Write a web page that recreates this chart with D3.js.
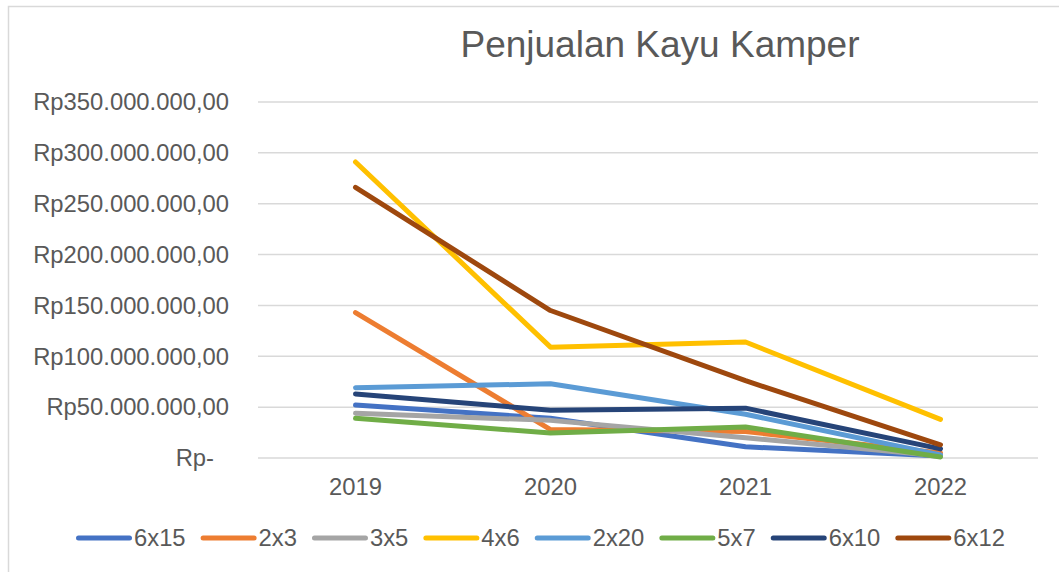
<!DOCTYPE html>
<html lang="en">
<head>
  <meta charset="UTF-8" />
  <title>Penjualan Kayu Kamper</title>
  <style>
    body {
      margin: 0;
      background: white;
      font-family: "Liberation Sans", Arial, sans-serif;
    }
    svg { display: block; }
    .tick-label { font-size: 23.8px; fill: #595959; }
    .title { font-size: 37px; fill: #595959; }
    .legend-label { font-size: 23.8px; fill: #595959; }
  </style>
</head>
<body>
  <svg width="1059" height="572"></svg>

  <script src="https://d3js.org/d3.v7.min.js"></script>
  <script>
    const years = ["2019", "2020", "2021", "2022"];
    const seriesNames = ["6x15", "2x3", "3x5", "4x6", "2x20", "5x7", "6x10", "6x12"];
    const seriesColors = ["#4472C4", "#ED7D31", "#A5A5A5", "#FFC000", "#5B9BD5", "#70AD47", "#264478", "#9E480E"];

    // values in Rupiah
    const s6x15 = [52000000, 39000000, 11000000, 2000000];
    const s2x3  = [143000000, 28000000, 26000000, 5000000];
    const s3x5  = [44000000, 37000000, 20000000, 2000000];
    const s4x6  = [291000000, 109000000, 114000000, 38000000];
    const s2x20 = [69000000, 73000000, 43000000, 3000000];
    const s5x7  = [39000000, 24500000, 30500000, 1000000];
    const s6x10 = [63000000, 47000000, 49000000, 9000000];
    const s6x12 = [266000000, 145000000, 76000000, 13000000];

    const yTicks = [0, 50000000, 100000000, 150000000, 200000000, 250000000, 300000000, 350000000];

    const allValues = [s6x15, s2x3, s3x5, s4x6, s2x20, s5x7, s6x10, s6x12];
    const series = seriesNames.map((name, i) => ({
      name: name,
      color: seriesColors[i],
      values: allValues[i]
    }));

    const svg = d3.select("svg");

    const plotLeft = 258, plotRight = 1038;
    const plotTop = 102, plotBottom = 458;

    const x = d3.scalePoint()
      .domain(years)
      .range([plotLeft, plotRight])
      .padding(0.5);

    const y = d3.scaleLinear()
      .domain([0, 350000000])
      .range([plotBottom, plotTop]);

    // outer chart border (only top/left edges visible in frame)
    svg.append("rect")
      .attr("x", 8.5)
      .attr("y", 6.5)
      .attr("width", 1200)
      .attr("height", 700)
      .attr("fill", "none")
      .attr("stroke", "#d9d9d9")
      .attr("stroke-width", 1.5);

    svg.append("text")
      .attr("class", "title")
      .attr("x", 660)
      .attr("y", 57)
      .attr("text-anchor", "middle")
      .text("Penjualan Kayu Kamper");

    // gridlines
    svg.append("g")
      .selectAll("line")
      .data(yTicks)
      .join("line")
        .attr("x1", plotLeft)
        .attr("x2", plotRight)
        .attr("y1", d => y(d))
        .attr("y2", d => y(d))
        .attr("stroke", "#d9d9d9")
        .attr("stroke-width", 1.5);

    function rupiah(v) {
      if (v === 0) return "Rp-";
      const s = String(v).replace(/\B(?=(\d{3})+(?!\d))/g, ".");
      return "Rp" + s + ",00";
    }

    svg.append("g")
      .selectAll("text")
      .data(yTicks)
      .join("text")
        .attr("class", "tick-label")
        .attr("x", d => d === 0 ? 214 : 229)
        .attr("y", d => y(d))
        .attr("dy", "0.35em")
        .attr("text-anchor", "end")
        .text(d => rupiah(d));

    svg.append("g")
      .selectAll("text")
      .data(years)
      .join("text")
        .attr("class", "tick-label")
        .attr("x", d => x(d))
        .attr("y", 495)
        .attr("text-anchor", "middle")
        .text(d => d);

    const line = d3.line()
      .x((d, i) => x(years[i]))
      .y(d => y(d));

    svg.append("g")
      .selectAll("path")
      .data(series)
      .join("path")
        .attr("d", d => line(d.values))
        .attr("fill", "none")
        .attr("stroke", d => d.color)
        .attr("stroke-width", 5)
        .attr("stroke-linejoin", "round")
        .attr("stroke-linecap", "round");

    // legend
    const legend = svg.append("g");
    let lx = 76;
    const ly = 538;
    series.forEach(s => {
      const g = legend.append("g");
      g.append("line")
        .attr("x1", lx + 2.5)
        .attr("x2", lx + 53.5)
        .attr("y1", ly)
        .attr("y2", ly)
        .attr("stroke", s.color)
        .attr("stroke-width", 5)
        .attr("stroke-linecap", "round");
      const t = g.append("text")
        .attr("class", "legend-label")
        .attr("x", lx + 58)
        .attr("y", ly)
        .attr("dy", "0.35em")
        .text(s.name);
      lx += 58 + t.node().getComputedTextLength() + 15;
    });
  </script>
</body>
</html>
